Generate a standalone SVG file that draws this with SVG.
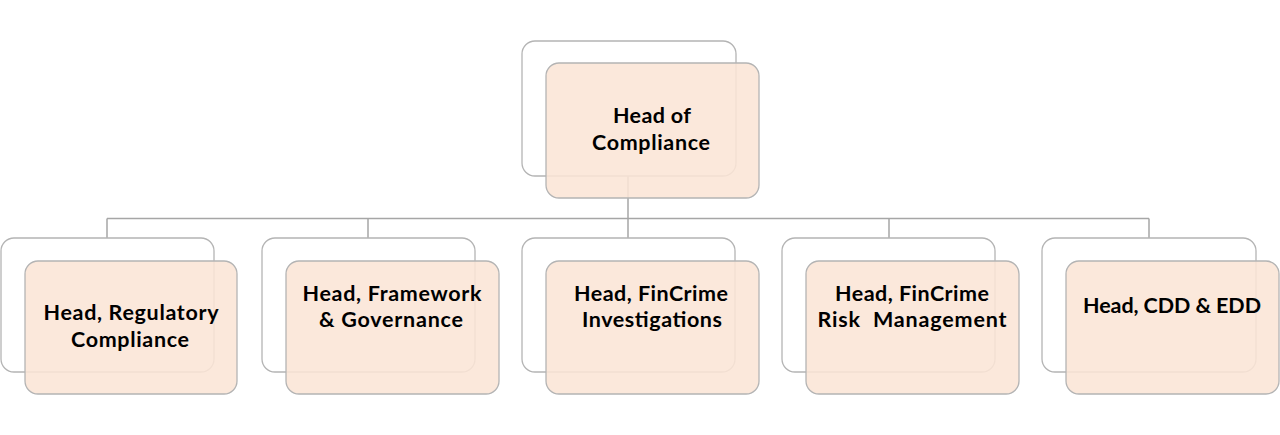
<svg xmlns="http://www.w3.org/2000/svg" width="1280" height="435" viewBox="0 0 1280 435">
<style>
.back{fill:#ffffff;stroke:#b4b4b4;stroke-width:1.3}
.front{fill:#fbe5d6;fill-opacity:0.88;stroke:#b4b4b4;stroke-width:1.3}
.conn{fill:none;stroke:#a6a6a6;stroke-width:1.5}
text{font-family:Lato,"Liberation Sans",sans-serif;font-weight:bold;font-size:21.5px;fill:#000;text-anchor:middle}
</style>
<rect width="1280" height="435" fill="#ffffff"/>
<g id="connectors">
<path class="conn" d="M628,176 V218.5 M107,218.5 H1149 M107,218.5 V238 M368,218.5 V238 M628,218.5 V238 M889,218.5 V238 M1149,218.5 V238"/>
</g>
<g id="node-head-of-compliance">
<rect class="back" x="522" y="41" width="214" height="135" rx="13"/>
<rect class="front" x="546" y="63" width="213" height="135" rx="13"/>
<text x="652" y="123" textLength="78" lengthAdjust="spacing">Head of</text>
<text x="651" y="150" textLength="118" lengthAdjust="spacing">Compliance</text>
</g>
<g id="node-regulatory">
<rect class="back" x="1" y="238" width="213" height="134" rx="13"/>
<rect class="front" x="25" y="261" width="212" height="133" rx="13"/>
<text x="131" y="320" textLength="175" lengthAdjust="spacing">Head, Regulatory</text>
<text x="130" y="347" textLength="118" lengthAdjust="spacing">Compliance</text>
</g>
<g id="node-framework">
<rect class="back" x="262" y="238" width="213" height="134" rx="13"/>
<rect class="front" x="286" y="261" width="213" height="133" rx="13"/>
<text x="392" y="301" textLength="179" lengthAdjust="spacing">Head, Framework</text>
<text x="391" y="327" textLength="144" lengthAdjust="spacing">&amp; Governance</text>
</g>
<g id="node-investigations">
<rect class="back" x="522" y="238" width="213" height="134" rx="13"/>
<rect class="front" x="546" y="261" width="213" height="133" rx="13"/>
<text x="651" y="301" textLength="154" lengthAdjust="spacing">Head, FinCrime</text>
<text x="652" y="327" textLength="140" lengthAdjust="spacing">Investigations</text>
</g>
<g id="node-risk">
<rect class="back" x="782" y="238" width="213" height="134" rx="13"/>
<rect class="front" x="806" y="261" width="213" height="133" rx="13"/>
<text x="912" y="301" textLength="154" lengthAdjust="spacing">Head, FinCrime</text>
<text x="912" y="327" xml:space="preserve" textLength="189" lengthAdjust="spacing">Risk  Management</text>
</g>
<g id="node-cdd">
<rect class="back" x="1042" y="238" width="214" height="134" rx="13"/>
<rect class="front" x="1066" y="261" width="213" height="133" rx="13"/>
<text x="1172" y="313" textLength="178" lengthAdjust="spacing">Head, CDD &amp; EDD</text>
</g>
</svg>
